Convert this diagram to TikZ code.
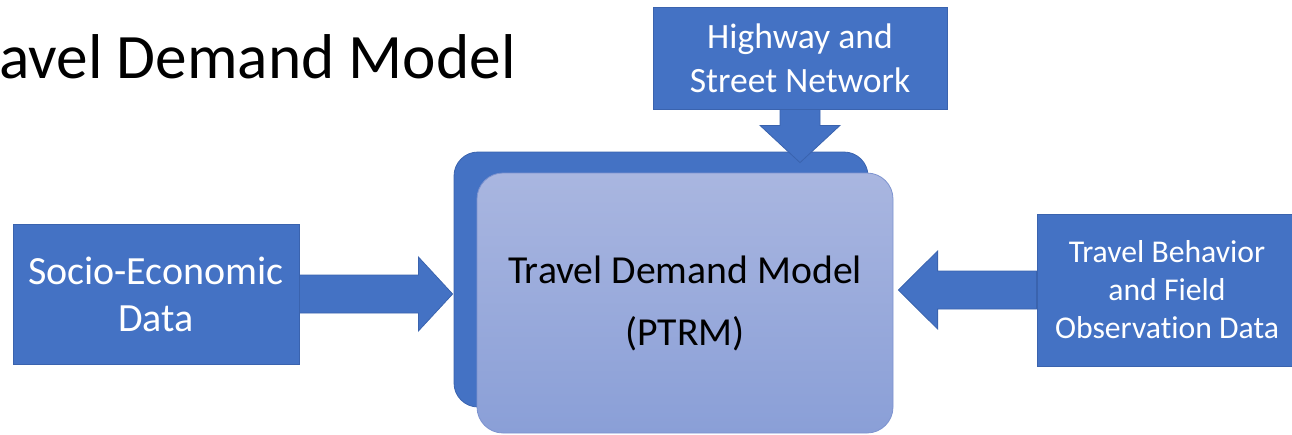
\documentclass[tikz,border=0pt]{standalone}
\usepackage{fontspec}
\setmainfont{Carlito}[Ligatures=NoCommon]
\usetikzlibrary{calc}
\definecolor{obl}{HTML}{4472C4}
\definecolor{obd}{HTML}{3A63AE}
\definecolor{ftop}{HTML}{A9B6E0}
\definecolor{fbot}{HTML}{8A9FD7}
\definecolor{fbd}{HTML}{7D93CF}
\tikzset{
  bluebox/.style={rectangle, fill=obl, draw=obd, line width=0.8pt, text=white, align=center, inner sep=0pt},
  blockarrow/.style={fill=obl, draw=obd, line width=0.8pt, line join=miter},
  backbox/.style={rectangle, rounded corners=24pt, fill=obl, draw=obd, line width=0.8pt},
  frontbox/.style={rectangle, rounded corners=26pt, top color=ftop, bottom color=fbot, draw=fbd, line width=0.8pt, align=center, text=black, inner sep=0pt}
}
\begin{document}
\begin{tikzpicture}[x=1pt,y=-1pt]
\useasboundingbox (0,0) rectangle (1292,434);
\clip (0,0) rectangle (1292,434);
% title
\node[anchor=base west, inner sep=0pt, font=\fontsize{63.3}{76}\selectfont] (title) at (-1,78) {avel Demand Model};
% boxes
\node[bluebox, minimum width=294pt, minimum height=102pt, font=\fontsize{35.6}{44}\selectfont] (hw) at (800,58) {Highway and\\Street Network};
\node[backbox, minimum width=414pt, minimum height=255pt] (back) at (661,279.5) {};
\node[frontbox, minimum width=416pt, minimum height=260pt, font=\fontsize{39.7}{62}\selectfont] (front) at (685,303) {Travel Demand Model\\(PTRM)};
\node[bluebox, minimum width=286pt, minimum height=140pt, font=\fontsize{40}{47}\selectfont] (soc) at (156,294) {Socio-Economic\\Data};
\node[bluebox, minimum width=260pt, minimum height=152pt, font=\fontsize{31.7}{38}\selectfont] (tb) at (1167,290) {Travel Behavior\\and Field\\Observation Data};
% block arrows
\coordinate (ltip) at ($(back.west |- soc.east)+(-1,0)$);
\draw[blockarrow] ($(soc.east)+(0,-19)$) -- ++(119,0) -- ++(0,-18) -- (ltip) -- ($(soc.east)+(119,37)$) -- ++(0,-18) -- ($(soc.east)+(0,19)$) -- cycle;
\coordinate (rtip) at ($(front.east |- tb.west)+(5,0)$);
\draw[blockarrow] ($(tb.west)+(0,-19)$) -- ++(-99,0) -- ++(0,-20) -- (rtip) -- ($(tb.west)+(-99,39)$) -- ++(0,-20) -- ($(tb.west)+(0,19)$) -- cycle;
\coordinate (ttip) at ($(hw.south |- back.north)+(0,11)$);
\draw[blockarrow] ($(hw.south)+(-20,0)$) -- ++(0,16) -- ++(-20,0) -- (ttip) -- ($(hw.south)+(40,16)$) -- ++(-20,0) -- ($(hw.south)+(20,0)$) -- cycle;
\end{tikzpicture}
\end{document}
